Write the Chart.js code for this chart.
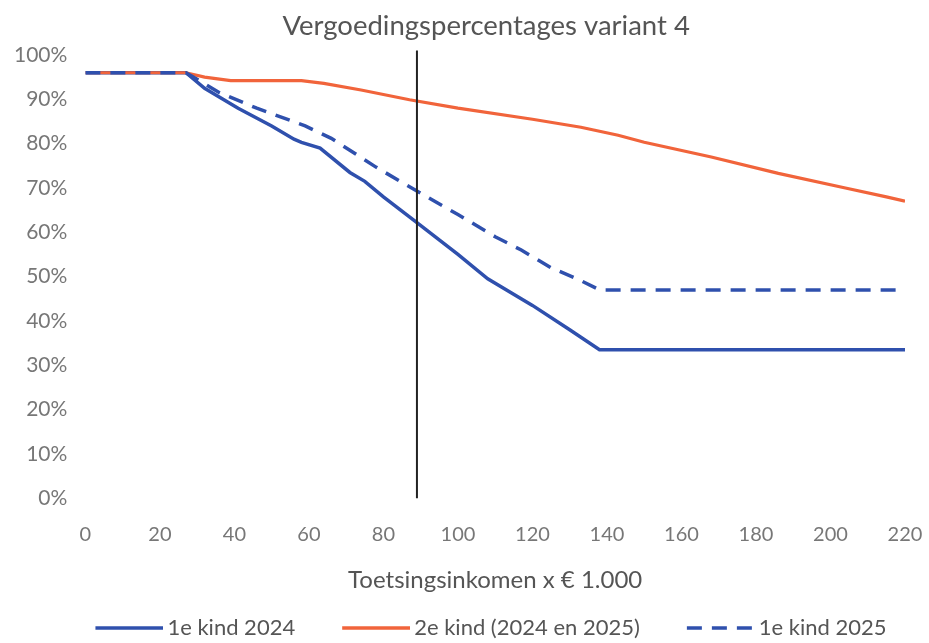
<!DOCTYPE html>
<html>
<head>
<meta charset="utf-8">
<script src="https://cdn.jsdelivr.net/npm/chart.js@4"></script>
<style>
  html, body { margin: 0; padding: 0; overflow: hidden; background: #fff; }
  canvas { display: block; }
</style>
</head>
<body>
<canvas id="chart-variant" width="929" height="643"></canvas>
<script>
// income x 1000, percentages
const income1e2024 = [0, 27, 32, 41, 50, 56, 58, 63, 71, 75, 80, 89, 100, 108, 120, 130, 138, 220];
const pct1e2024 = [96, 96, 92.5, 88, 84, 81, 80.3, 79, 73.5, 71.5, 68, 62.2, 55, 49.5, 43.5, 38, 33.5, 33.5];

const income2e = [0, 27, 32, 39, 58, 64, 74, 87, 100, 120, 133, 143, 150, 168, 186, 204, 215, 220];
const pct2e = [96, 96, 95, 94.2, 94.2, 93.6, 92.1, 89.9, 88, 85.5, 83.7, 81.9, 80.3, 77, 73.3, 70, 68, 67];

const income1e2025 = [0, 27, 36, 46, 59, 66, 78, 90, 100, 110, 117, 125, 132, 138, 220];
const pct1e2025 = [96, 96, 91.5, 88, 84, 81.2, 74.7, 68.8, 64, 59, 56, 52, 49.5, 47, 47];

// hand drawn vertical marker
const markerIncome = [89, 89];
const markerPct = [0, 101];

const xTicks = [0, 20, 40, 60, 80, 100, 120, 140, 160, 180, 200, 220];

function toPoints(xs, ys) {
    return xs.map(function (x, i) {
        return { x: x, y: ys[i] / 100 };
    });
}

const blue = '#2f50ad';
const orange = '#f1643b';

// legend swatch: empty gap on the left, line sticking a bit past the box on the right
const boxW = 98;
const overhang = 7;
const lineLen = 68;
function legendSwatch(color, dash) {
    const c = document.createElement('canvas');
    c.width = boxW + 2 * overhang;
    c.height = 10;
    const ctx = c.getContext('2d');
    ctx.strokeStyle = color;
    ctx.lineWidth = 3.5;
    ctx.setLineDash(dash || []);
    ctx.beginPath();
    ctx.moveTo(c.width - lineLen, 5);
    ctx.lineTo(c.width, 5);
    ctx.stroke();
    return c;
}

// excel places legend and title a little differently than chart.js does
const boxNudge = {
    id: 'boxNudge',
    afterLayout: function (chart) {
        chart.legend.left += 22;
        chart.legend.right += 22;
        chart.titleBlock.left -= 9;
        chart.titleBlock.right -= 9;
    }
};

const config = {
    type: 'line',
    data: {
        datasets: [
            {
                label: '1e kind 2024',
                data: toPoints(income1e2024, pct1e2024),
                borderColor: blue,
                backgroundColor: blue,
                borderWidth: 3.5,
                pointRadius: 0,
                swatch: legendSwatch(blue),
                order: 2
            },
            {
                label: '2e kind (2024 en 2025)',
                data: toPoints(income2e, pct2e),
                borderColor: orange,
                backgroundColor: orange,
                borderWidth: 3.2,
                pointRadius: 0,
                swatch: legendSwatch(orange),
                order: 1
            },
            {
                label: '1e kind 2025',
                data: toPoints(income1e2025, pct1e2025),
                borderColor: blue,
                backgroundColor: blue,
                borderWidth: 3.5,
                borderDash: [15, 10],
                pointRadius: 0,
                swatch: legendSwatch(blue, [15, 10]),
                order: 0
            },
            {
                label: 'marker',
                data: toPoints(markerIncome, markerPct),
                borderColor: '#222',
                borderWidth: 2,
                pointRadius: 0,
                clip: false,
                order: -1
            }
        ]
    },
    options: {
        responsive: false,
        animation: false,
        layout: { padding: { left: -4, right: 24, top: 0, bottom: -6 } },
        scales: {
            x: {
                type: 'linear',
                min: 0,
                max: 220,
                grid: { display: false, drawTicks: false },
                border: { display: false },
                afterBuildTicks: function (axis) {
                    axis.ticks = xTicks.map(function (v) { return { value: v }; });
                },
                // tick padding also gets added on the right side, undo that
                afterFit: function (axis) {
                    axis.paddingRight = 10;
                },
                ticks: {
                    color: '#777',
                    padding: 24,
                    maxRotation: 0,
                    font: { family: 'Lato', size: 20 }
                },
                title: {
                    display: true,
                    text: 'Toetsingsinkomen x € 1.000',
                    color: '#555',
                    padding: { top: -4, bottom: 12 },
                    font: { family: 'Lato', size: 24 }
                }
            },
            y: {
                min: 0,
                max: 1,
                grid: { display: false, drawTicks: false },
                border: { display: false },
                ticks: {
                    stepSize: 0.1,
                    color: '#777',
                    padding: 18,
                    font: { family: 'Lato', size: 21 },
                    callback: function (v) { return Math.round(v * 100) + '%'; }
                }
            }
        },
        plugins: {
            title: {
                display: true,
                fullSize: false,
                text: 'Vergoedingspercentages variant 4',
                color: '#555',
                padding: { top: 10, bottom: 12 },
                font: { family: 'Lato', size: 27.5, weight: 'normal' }
            },
            legend: {
                position: 'bottom',
                labels: {
                    usePointStyle: true,
                    pointStyleWidth: boxW,
                    padding: 10,
                    color: '#555',
                    font: { family: 'Lato', size: 22 },
                    generateLabels: function (chart) {
                        const items = Chart.defaults.plugins.legend.labels.generateLabels(chart);
                        items.forEach(function (item) {
                            item.pointStyle = chart.data.datasets[item.datasetIndex].swatch;
                        });
                        return items;
                    },
                    filter: function (item) { return item.text !== 'marker'; },
                    sort: function (a, b) { return a.datasetIndex - b.datasetIndex; }
                }
            },
            tooltip: { enabled: false }
        }
    },
    plugins: [boxNudge]
};

const chart = new Chart(document.getElementById('chart-variant'), config);
</script>
</body>
</html>
